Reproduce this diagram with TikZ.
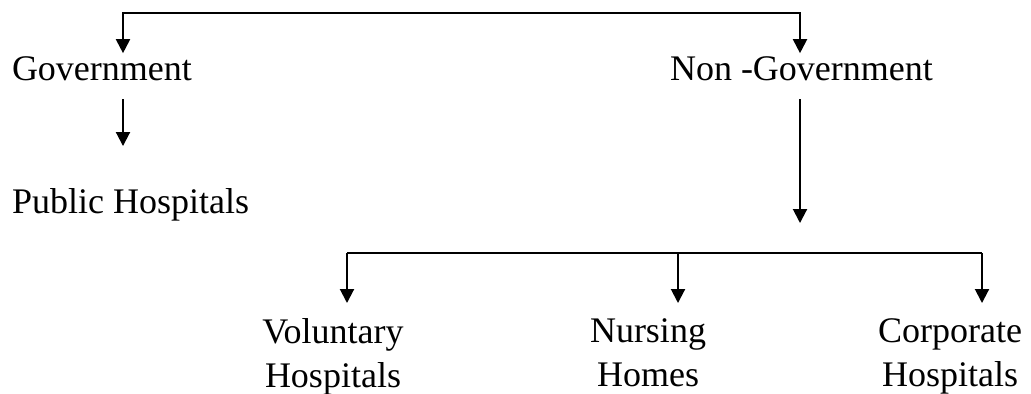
\documentclass[tikz,border=0pt]{standalone}
\usepackage{fontspec}
\setmainfont{Liberation Serif}
\usetikzlibrary{arrows.meta}

\begin{document}
\begin{tikzpicture}[x=0.5pt,y=-0.5pt,
        line width=1pt,
        arr/.style={-{Triangle[width=7pt,length=7pt]}},
        lbl/.style={inner sep=0pt,font=\fontsize{18}{22}\selectfont},
        leaf/.style={lbl,align=center,anchor=north}]
        \useasboundingbox (0,0) rectangle (1031,393);

        % Labels
        \node[lbl,anchor=base west] (gov) at (11,80) {Government};
        \node[lbl,anchor=base west] (nongov) at (669,80) {Non -Government};
        \node[lbl,anchor=base west] (pub) at (11,213) {Public Hospitals};
        \node[leaf] (vol) at (333,318) {Voluntary\\Hospitals};
        \node[leaf] (nurs) at (648,318) {Nursing\\Homes};
        \node[leaf] (corp) at (950,318) {Corporate\\Hospitals};

        % Branch points
        \coordinate (gl) at (123,13);
        \coordinate (gr) at (800,13);
        \coordinate (nend) at (800,223);
        \coordinate (bl) at (347,253);
        \coordinate (bm) at (678,253);
        \coordinate (br) at (982,253);

        % Top split
        \draw[arr,shorten >=1pt] (gr) -| (gl |- gov.north);
        \draw[arr,shorten >=1pt] (gl) -| (gr |- nongov.north);

        % Government side
        \draw[arr,shorten <=9pt,shorten >=20.5pt] (gov.south -| gl) -- (pub.north -| gl);

        % Non-government side
        \draw[arr,shorten <=9pt] (nongov.south -| nend) -- (nend);
        \draw (bl) -- (br);
        \foreach \n/\c in {vol/bl,nurs/bm,corp/br} {
            \draw[arr,shorten >=7.5pt] (\c) -- (\c |- \n.north);
        }

    \end{tikzpicture}
\end{document}
